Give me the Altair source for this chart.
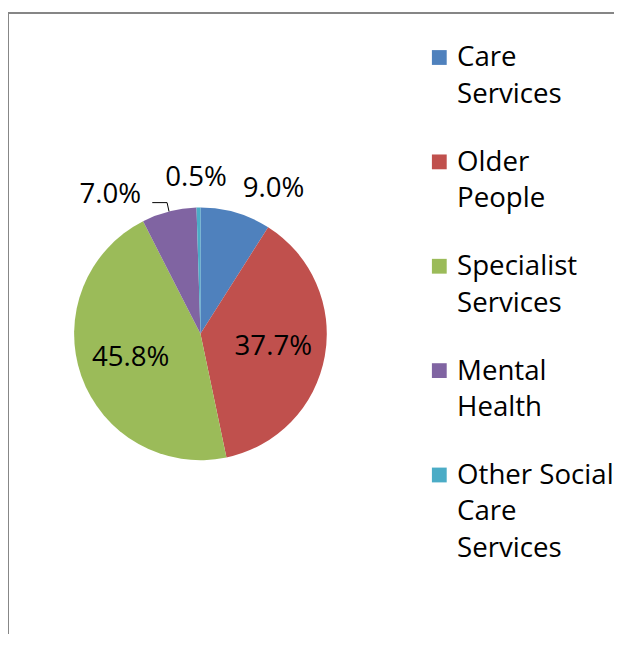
import altair as alt
import pandas as pd

categories = ["Care Services", "Older People", "Specialist Services", "Mental Health", "Other Social Care Services"]
legend_lines = ["Care\nServices", "Older\nPeople", "Specialist\nServices", "Mental\nHealth", "Other Social\nCare\nServices"]
shares = [9.0, 37.7, 45.8, 7.0, 0.5]
colors = ["#4F81BD", "#C0504D", "#9BBB59", "#8064A2", "#4BACC6"]

df = pd.DataFrame({"category": categories, "legend": legend_lines, "share": shares})
df["end"] = df["share"].cumsum()
df["start"] = df["end"] - df["share"]
df["mid"] = (df["start"] + df["end"]) / 2
df["label"] = df["share"].map(lambda v: f"{v:.1f}%")

W, H = 614, 630
CX, CY, R = 195, 326, 128
FONT = "Open Sans"
FS = 28

theta_scale = alt.Scale(domain=[0, 100], range=[0, 6.283185307179586])
color = alt.Color("category:N", scale=alt.Scale(domain=categories, range=colors), legend=None)

base = alt.Chart(df)

pie = base.mark_arc(radius=R).encode(
    theta=alt.Theta("start:Q", scale=theta_scale),
    theta2="end:Q",
    color=color,
    x=alt.value(CX),
    y=alt.value(CY),
)


def pct_label(expr, radius, dx=0, dy=0):
    return base.transform_filter(expr).mark_text(
        radius=radius, dx=dx, dy=dy, font=FONT, fontSize=FS, color="#000000",
        baseline="middle", align="center"
    ).encode(
        theta=alt.Theta("mid:Q", scale=theta_scale),
        text="label:N",
        x=alt.value(CX),
        y=alt.value(CY),
    )


inside = pct_label("datum.share >= 20", 75)
lab_care = pct_label("datum.category == 'Care Services'", 158, dx=30, dy=5)
lab_other = pct_label("datum.category == 'Other Social Care Services'", 158, dx=-2, dy=0)
lab_mental = pct_label("datum.category == 'Mental Health'", 158, dx=-52, dy=12)

lead = base.transform_filter("datum.category == 'Mental Health'").transform_calculate(
    a="datum.mid / 100 * 2 * PI",
).transform_calculate(
    x0=f"{CX} + {R} * sin(datum.a)",
    y0=f"{CY} - {R} * cos(datum.a)",
).transform_calculate(
    x1="datum.x0 - 2",
    y1="datum.y0 - 9",
    xe="datum.x0 - 17",
)
seg1 = lead.mark_rule(color="#000000", strokeWidth=1).encode(
    x=alt.X("x0:Q", scale=None, axis=None), y=alt.Y("y0:Q", scale=None, axis=None),
    x2="x1:Q", y2="y1:Q",
)
seg2 = lead.mark_rule(color="#000000", strokeWidth=1).encode(
    x=alt.X("x1:Q", scale=None, axis=None), y=alt.Y("y1:Q", scale=None, axis=None),
    x2="xe:Q", y2="y1:Q",
)

ypos = alt.Y("category:N", scale=alt.Scale(type="point", domain=categories, range=[46, 469], padding=0), axis=None)
leg_sq = base.mark_square(size=225, opacity=1).encode(x=alt.value(437), y=ypos, color=color)
leg_tx = base.mark_text(
    align="left", baseline="alphabetic", dy=9, lineBreak="\n", lineHeight=37,
    font=FONT, fontSize=FS, color="#000000"
).encode(x=alt.value(455), y=ypos, text="legend:N")

frame = pd.DataFrame({"k": [0]})
left = alt.Chart(frame).mark_rule(color="#868686", strokeWidth=2).encode(
    x=alt.value(0), y=alt.value(0), y2=alt.value(H)
)
top = alt.Chart(frame).mark_rule(color="#868686", strokeWidth=2).encode(
    x=alt.value(0), x2=alt.value(W + 20), y=alt.value(1)
)

chart = alt.layer(
    pie, inside, lab_care, lab_other, lab_mental, seg1, seg2, leg_sq, leg_tx, left, top
).resolve_scale(x="independent", y="independent").properties(
    width=W, height=H, padding=0, autosize=alt.AutoSizeParams(type="none"), background="white"
).configure_view(stroke=None)

chart.save("out.html", embed_options={"renderer": "svg", "actions": False})
